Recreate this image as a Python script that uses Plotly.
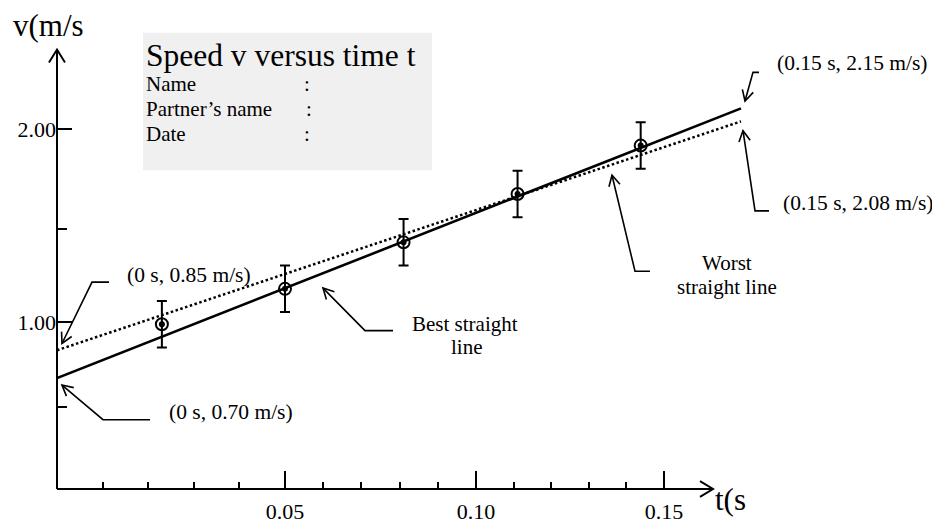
import numpy as np
import plotly.graph_objects as go

# ---------------- data ----------------
t_points = [0.023, 0.050, 0.076, 0.101, 0.128]          # time t (s)
v_points = [0.99, 1.18, 1.43, 1.69, 1.95]               # speed v (m/s)
v_error = [0.125, 0.125, 0.125, 0.125, 0.125]           # error bars (m/s)

best_t = [0.0, 0.15]
best_v = [0.70, 2.15]
worst_t = [0.0, 0.15]
worst_v = [0.85, 2.08]

x_tick_labels = ["0.05", "0.10", "0.15"]
y_tick_labels = ["1.00", "2.00"]

# ---------------- layout geometry ----------------
# the page body has an 8px margin, so the figure starts at (8, 8) of the window
OFF = 8
W, H = 940 - OFF, 524 - OFF
ML, MR, MT, MB = 57 - OFF, 0, 0, 30
X_RANGE = [0.0, 0.19364]
Y_RANGE = [0.1043, 2.6894]

# tick positions as drawn on the (hand drawn) axes
x_major_pos = [0.0500, 0.0919, 0.1331]
x_sections = [0.0] + x_major_pos
x_minor_pos = []
for a, b in zip(x_sections[:-1], x_sections[1:]):
    x_minor_pos += list(np.linspace(a, b, 6)[1:-1])
y_major_pos = [1.00, 2.04]
y_minor_pos = [0.545, 1.50]

FONT = "Liberation Serif, Times New Roman, serif"
INK = "black"


# window-pixel -> paper coordinates
def PX(x):
    return (x - OFF - ML) / (W - ML - MR)


def PY(y):
    return (H - MB - (y - OFF)) / (H - MT - MB)


def poly_path(pts):
    s = "M {:.5f} {:.5f}".format(PX(pts[0][0]), PY(pts[0][1]))
    for x, y in pts[1:]:
        s += " L {:.5f} {:.5f}".format(PX(x), PY(y))
    return s


def arrow_head(tail, tip, length=12, half_angle=28):
    dx, dy = tip[0] - tail[0], tip[1] - tail[1]
    n = np.hypot(dx, dy)
    bx, by = -dx / n, -dy / n
    pts = []
    for sgn in (1, -1):
        a = np.radians(sgn * half_angle)
        rx = bx * np.cos(a) - by * np.sin(a)
        ry = bx * np.sin(a) + by * np.cos(a)
        pts.append((tip[0] + rx * length, tip[1] + ry * length))
    return [pts[0], tip, pts[1]]


fig = go.Figure()

fig.add_trace(go.Scatter(x=worst_t, y=worst_v, mode="lines",
                         line=dict(color=INK, width=2.5, dash="2.5px,2.5px"),
                         hoverinfo="skip", showlegend=False))
fig.add_trace(go.Scatter(x=best_t, y=best_v, mode="lines",
                         line=dict(color=INK, width=2.6),
                         hoverinfo="skip", showlegend=False))
fig.add_trace(go.Scatter(x=t_points, y=v_points, mode="markers",
                         marker=dict(symbol="circle-open", size=12, color=INK,
                                     line=dict(width=2, color=INK)),
                         error_y=dict(type="data", array=v_error, visible=True,
                                      color=INK, thickness=2, width=5),
                         showlegend=False))
fig.add_trace(go.Scatter(x=t_points, y=v_points, mode="markers",
                         marker=dict(symbol="circle", size=6, color=INK),
                         showlegend=False))

shapes = []
# title box
shapes.append(dict(type="rect", xref="paper", yref="paper",
                   x0=PX(143), x1=PX(432), y0=PY(172), y1=PY(33),
                   fillcolor="#f0f0f0", line=dict(width=0), layer="below"))
# axes with open arrow heads
line_style = dict(color=INK, width=2)
shapes.append(dict(type="path", xref="paper", yref="paper",
                   path=poly_path([(57, 494), (57, 50)]), line=line_style))
shapes.append(dict(type="path", xref="paper", yref="paper",
                   path=poly_path([(49, 63), (57, 50), (65, 63)]), line=line_style))
shapes.append(dict(type="path", xref="paper", yref="paper",
                   path=poly_path([(57, 494), (713, 494)]), line=line_style))
shapes.append(dict(type="path", xref="paper", yref="paper",
                   path=poly_path([(700, 486), (713, 494), (700, 502)]), line=line_style))

# callouts: tail -> bend -> tip (window pixel positions)
callouts = [
    [(759, 73), (753, 73), (745, 102)],
    [(769, 213), (755, 213), (743, 132)],
    [(650, 274), (635, 274), (612, 177)],
    [(393, 334), (365, 334), (323, 291)],
    [(109, 285), (92, 285), (62, 347)],
    [(150, 424), (103, 424), (62, 389)],
]
cl_style = dict(color=INK, width=1.6)
for pts in callouts:
    shapes.append(dict(type="path", xref="paper", yref="paper",
                       path=poly_path(pts), line=cl_style))
    shapes.append(dict(type="path", xref="paper", yref="paper",
                       path=poly_path(arrow_head(pts[-2], pts[-1])), line=cl_style))

annotations = []


def text(s, x, y, size=21.5, anchor="center"):
    annotations.append(dict(text=s, x=PX(x), y=PY(y), xref="paper", yref="paper",
                            xanchor=anchor, yanchor="middle", showarrow=False,
                            borderpad=0,
                            font=dict(family=FONT, size=size, color=INK)))


text("v(m/s", 12, 26, size=31, anchor="left")
text("t(s", 714, 505, size=31, anchor="left")
text("Speed v versus time t", 145, 56, size=31.5, anchor="left")
text("Name", 145, 85, size=21, anchor="left")
text("Partner’s name", 145, 110, size=21, anchor="left")
text("Date", 145, 135, size=21, anchor="left")
text(":", 307, 85, size=21)
text(":", 309, 110, size=21)
text(":", 307, 135, size=21)
text("(0.15 s, 2.15 m/s)", 852, 64)
text("(0.15 s, 2.08 m/s)", 858, 205)
text("Worst", 727, 266, size=21)
text("straight line", 727, 290, size=21)
text("Best straight", 465, 327, size=21)
text("line", 467, 351, size=21)
text("(0 s, 0.85 m/s)", 189, 278)
text("(0 s, 0.70 m/s)", 231, 416)

fig.update_layout(
    width=W, height=H,
    margin=dict(l=ML, r=MR, t=MT, b=MB, pad=0),
    paper_bgcolor="white", plot_bgcolor="white",
    showlegend=False,
    shapes=shapes, annotations=annotations,
    font=dict(family=FONT, size=21, color=INK),
    xaxis=dict(range=X_RANGE, showgrid=False, zeroline=False, showline=False,
               tickmode="array", tickvals=x_major_pos, ticktext=x_tick_labels,
               ticks="inside", ticklen=18, tickwidth=2, tickcolor=INK,
               ticklabelstandoff=7,
               tickfont=dict(family=FONT, size=22, color=INK),
               minor=dict(tickmode="array", tickvals=x_minor_pos, ticks="inside",
                          ticklen=7, tickwidth=2, tickcolor=INK, showgrid=False)),
    yaxis=dict(range=Y_RANGE, showgrid=False, zeroline=False, showline=False,
               tickmode="array", tickvals=y_major_pos, ticktext=y_tick_labels,
               ticks="inside", ticklen=15, tickwidth=2, tickcolor=INK,
               tickfont=dict(family=FONT, size=22, color=INK),
               minor=dict(tickmode="array", tickvals=y_minor_pos, ticks="inside",
                          ticklen=10, tickwidth=2, tickcolor=INK, showgrid=False)),
)

fig.write_html("out.html")
